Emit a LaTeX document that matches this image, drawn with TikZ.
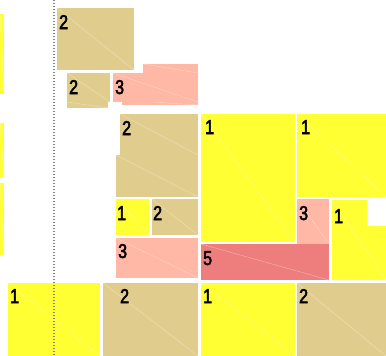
\documentclass[tikz,border=0pt]{standalone}
\usepackage{fontspec}
\setmainfont{Liberation Sans}[FakeStretch=0.8,FakeBold=2.5]
\definecolor{tanc}{RGB}{224,204,140}
\definecolor{yelc}{RGB}{255,255,51}
\definecolor{salc}{RGB}{255,184,166}
\definecolor{redc}{RGB}{238,126,126}
\tikzset{
  blockfill/.style={fill=#1, draw=none},
  diag/.style={draw=white, opacity=0.4, line width=0.4pt},
  lbl/.style={anchor=base west, inner sep=0pt, font=\fontsize{20}{20}\selectfont},
  guide/.style={draw=gray!60!black!70, dash pattern=on 1.2pt off 1.8pt, line width=1.2pt}
}
\newcommand{\blk}[6]{%
  \fill[blockfill=#5] (#1,#2) rectangle (#3,#4);
  \draw[diag] (#1,#2) -- (#3,#4);
}
\begin{document}
\begin{tikzpicture}[x=1pt,y=-1pt]
\useasboundingbox (0,0) rectangle (386,356);
% left strip
\blk{0}{14}{4}{94}{yelc}{}
\blk{0}{123}{4}{177}{yelc}{}
\blk{0}{183}{4}{255}{yelc}{}
% top tan
\blk{57}{8}{134}{70}{tanc}{}
\node[lbl] (l1) at (59,29) {2};
% small tan
\blk{67}{102}{108}{108}{tanc}{}
\blk{67}{73}{110}{102}{tanc}{}
\node[lbl] (l2) at (69,94) {2};
% salmon 3
\blk{143}{64}{198}{73}{salc}{}
\blk{122}{100}{198}{105}{salc}{}
\blk{113}{73}{198}{102}{salc}{}
\node[lbl] (l3) at (115,94) {3};
% middle tan
\blk{120}{114}{198}{155}{tanc}{}
\blk{116}{155}{198}{197}{tanc}{}
\node[lbl] (l4) at (122,135) {2};
% yellow 1 small
\blk{116}{199}{149}{235}{yelc}{}
\node[lbl] (l5) at (117,220) {1};
% tan 2 small
\blk{152}{199}{198}{235}{tanc}{}
\node[lbl] (l6) at (153,220) {2};
% salmon 3
\blk{116}{238}{198}{278}{salc}{}
\node[lbl] (l7) at (118,258) {3};
% big yellow 1
\blk{201}{114}{295}{242}{yelc}{}
\node[lbl] (l8) at (205,134) {1};
% red 5
\blk{201}{244}{329}{280}{redc}{}
\node[lbl] (l9) at (203,265) {5};
% top right yellow
\blk{297}{114}{386}{197}{yelc}{}
\node[lbl] (l10) at (301,134) {1};
% salmon 3 narrow
\blk{297}{199}{329}{244}{salc}{}
\node[lbl] (l11) at (299,220) {3};
% right yellow
\fill[blockfill=yelc] (332,200) -- (367,200) -- (367,226) -- (386,226) -- (386,280) -- (332,280) -- cycle;
\draw[diag] (332,200) -- (386,280);
\node[lbl] (l12) at (334,223) {1};
% bottom row
\blk{8}{283}{100}{356}{yelc}{}
\node[lbl] (l13) at (10,303) {1};
\blk{103}{283}{198}{356}{tanc}{}
\node[lbl] (l14) at (120,303) {2};
\blk{201}{283}{295}{356}{yelc}{}
\node[lbl] (l15) at (203,303) {1};
\blk{297}{283}{386}{356}{tanc}{}
\node[lbl] (l16) at (299,303) {2};
% dotted guide
\coordinate (gtop) at (54,0);
\coordinate (gbot) at (54,356);
\draw[guide] (gtop) -- (gbot);
\end{tikzpicture}
\end{document}
